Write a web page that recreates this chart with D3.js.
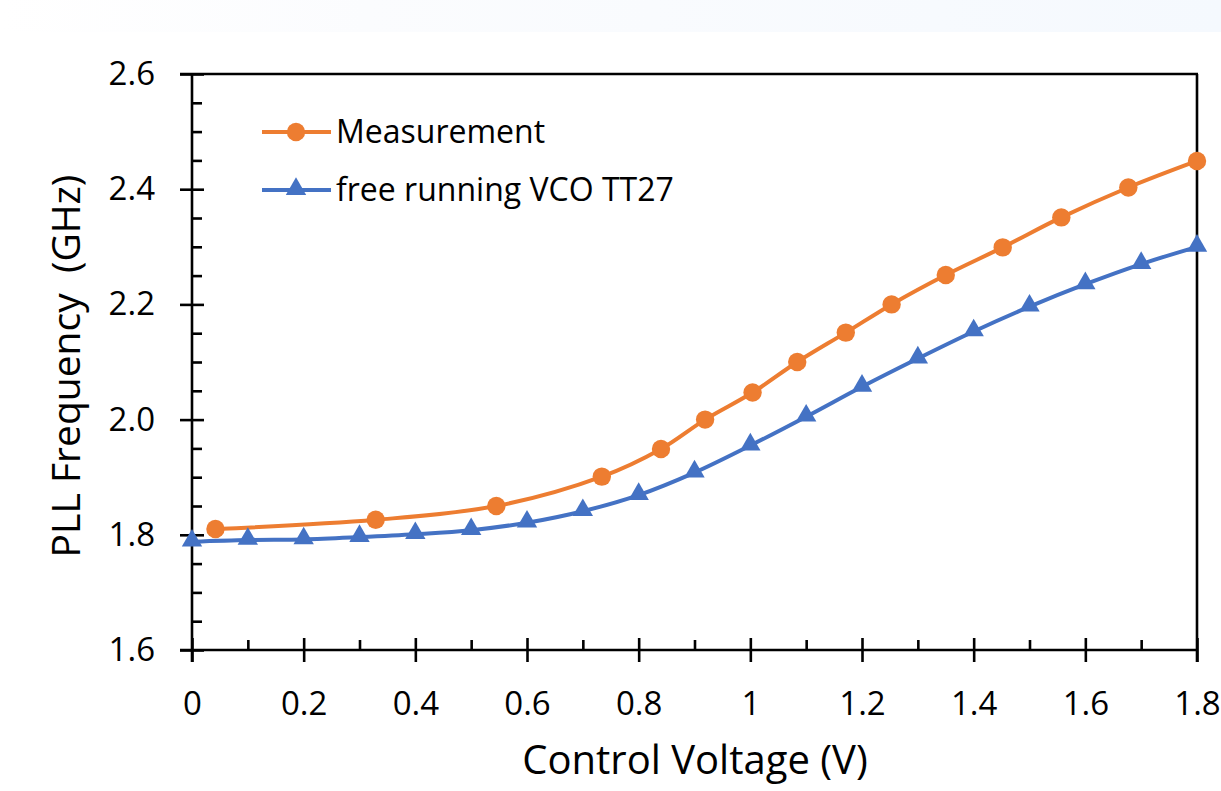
<!DOCTYPE html>
<html>
<head>
<meta charset="utf-8">
<script src="https://cdn.jsdelivr.net/npm/d3@7/dist/d3.min.js"></script>
<style>
  html, body { margin: 0; padding: 0; background: #ffffff; }
  svg { display: block; }
  text { font-family: "Open Sans", Lato, sans-serif; fill: #000; }
</style>
</head>
<body>
<svg id="chart" width="1221" height="791"></svg>
<script>
// ---- data ----
const measV = [0.042, 0.329, 0.545, 0.734, 0.840, 0.919, 1.004, 1.084, 1.171, 1.253, 1.350, 1.452, 1.557, 1.677, 1.800];
const measF = [1.810, 1.826, 1.850, 1.901, 1.949, 2.000, 2.047, 2.100, 2.151, 2.200, 2.251, 2.299, 2.351, 2.403, 2.449];
const vcoV  = [0, 0.1, 0.2, 0.3, 0.4, 0.5, 0.6, 0.7, 0.8, 0.9, 1.0, 1.1, 1.2, 1.3, 1.4, 1.5, 1.6, 1.7, 1.8];
const vcoF  = [1.788, 1.791, 1.792, 1.796, 1.801, 1.808, 1.821, 1.841, 1.869, 1.908, 1.955, 2.005, 2.057, 2.106, 2.153, 2.196, 2.235, 2.270, 2.300];
const xTicks = [0, 0.2, 0.4, 0.6, 0.8, 1, 1.2, 1.4, 1.6, 1.8];
const xMinor = [0.1, 0.3, 0.5, 0.7, 0.9, 1.1, 1.3, 1.5, 1.7];
const yTicks = [1.6, 1.8, 2.0, 2.2, 2.4, 2.6];
const yMinor = [1.65, 1.7, 1.75, 1.85, 1.9, 1.95, 2.05, 2.1, 2.15, 2.25, 2.3, 2.35, 2.45, 2.5, 2.55];
const seriesNames = ["Measurement", "free running VCO TT27"];
const xTitle = "Control Voltage (V)";
const yTitle = "PLL Frequency  (GHz)";

const colors = ["#ED7D31", "#4472C4"];

const svg = d3.select("#chart");

// faint top strip
const defs = svg.append("defs");
const grad = defs.append("linearGradient").attr("id", "strip").attr("x1", "0").attr("x2", "1");
grad.append("stop").attr("offset", "0").attr("stop-color", "#ffffff");
grad.append("stop").attr("offset", "0.3").attr("stop-color", "#fbfcfe");
grad.append("stop").attr("offset", "1").attr("stop-color", "#f5f9fe");
svg.append("rect").attr("x", 0).attr("y", 0).attr("width", 1221).attr("height", 32).attr("fill", "url(#strip)");

const L = 192, R = 1197, T = 74, B = 650;
const x = d3.scaleLinear().domain([0, 1.8]).range([L, R]);
const y = d3.scaleLinear().domain([1.6, 2.6]).range([B, T]);

const axisStroke = 2.6;
function styleAxis(g) {
  g.selectAll("path.domain").remove();
  g.selectAll("line").attr("stroke", "#000").attr("stroke-width", axisStroke);
}

// X axis: labels + outward major ticks
const gx = svg.append("g").attr("transform", `translate(0,${B})`)
  .call(d3.axisBottom(x).tickValues(xTicks).tickSize(12).tickPadding(53).tickFormat(d3.format("~g")));
styleAxis(gx);
gx.selectAll("text").attr("font-size", 33).attr("dy", 0);
const gx2 = svg.append("g").attr("transform", `translate(0,${B})`)
  .call(d3.axisBottom(x).tickValues(xTicks).tickSize(-12).tickFormat(""));
styleAxis(gx2);
const gx3 = svg.append("g").attr("transform", `translate(0,${B})`)
  .call(d3.axisBottom(x).tickValues(xMinor).tickSize(-10).tickFormat(""));
styleAxis(gx3);

// Y axis
const gy = svg.append("g").attr("transform", `translate(${L},0)`)
  .call(d3.axisLeft(y).tickValues(yTicks).tickSize(12).tickPadding(25).tickFormat(d3.format(".1f")));
styleAxis(gy);
gy.selectAll("text").attr("font-size", 33);
const gy2 = svg.append("g").attr("transform", `translate(${L},0)`)
  .call(d3.axisLeft(y).tickValues(yTicks).tickSize(-12).tickFormat(""));
styleAxis(gy2);
const gy3 = svg.append("g").attr("transform", `translate(${L},0)`)
  .call(d3.axisLeft(y).tickValues(yMinor).tickSize(-10).tickFormat(""));
styleAxis(gy3);

// frame lines
svg.append("line").attr("x1", L - 12).attr("x2", R + 1).attr("y1", B).attr("y2", B).attr("stroke", "#000").attr("stroke-width", axisStroke);
svg.append("line").attr("x1", L).attr("x2", L).attr("y1", T - 1).attr("y2", B + 12).attr("stroke", "#000").attr("stroke-width", axisStroke);
svg.append("line").attr("x1", L - 12).attr("x2", R + 1).attr("y1", T).attr("y2", T).attr("stroke", "#000").attr("stroke-width", axisStroke);
svg.append("line").attr("x1", R).attr("x2", R).attr("y1", T).attr("y2", B + 12).attr("stroke", "#000").attr("stroke-width", axisStroke);

// lines
const line = d3.line().curve(d3.curveCatmullRom.alpha(0.5)).x(d => x(d[0])).y(d => y(d[1]));
const meas = measV.map((v, i) => [v, measF[i]]);
const vco = vcoV.map((v, i) => [v, vcoF[i]]);

svg.append("path").datum(vco).attr("d", line).attr("fill", "none").attr("stroke", colors[1]).attr("stroke-width", 4);
svg.append("path").datum(meas).attr("d", line).attr("fill", "none").attr("stroke", colors[0]).attr("stroke-width", 4);

const tri = d3.symbol().type(d3.symbolTriangle).size(180);
svg.append("g").selectAll("path").data(vco).join("path")
  .attr("transform", d => `translate(${x(d[0])},${y(d[1]) - 1})`)
  .attr("d", tri).attr("fill", colors[1]);
svg.append("g").selectAll("circle").data(meas).join("circle")
  .attr("cx", d => x(d[0])).attr("cy", d => y(d[1])).attr("r", 9.2).attr("fill", colors[0]);

// legend
const lg = svg.append("g");
const legY = [132, 190];
seriesNames.forEach((name, i) => {
  lg.append("line").attr("x1", 262).attr("x2", 331).attr("y1", legY[i]).attr("y2", legY[i])
    .attr("stroke", colors[i]).attr("stroke-width", 4);
  if (i === 0) {
    lg.append("circle").attr("cx", 296).attr("cy", legY[i]).attr("r", 9.2).attr("fill", colors[i]);
  } else {
    lg.append("path").attr("transform", `translate(296,${legY[i] - 1})`).attr("d", tri).attr("fill", colors[i]);
  }
  lg.append("text").attr("x", 336).attr("y", legY[i] + 11).attr("font-size", 32).text(name);
});

// axis titles
svg.append("text").attr("x", 695).attr("y", 774).attr("text-anchor", "middle")
  .attr("font-size", 40).text(xTitle);
svg.append("text").attr("transform", `translate(80,366) rotate(-90)`).attr("text-anchor", "middle")
  .attr("font-size", 39).style("white-space", "pre").text(yTitle);
</script>
</body>
</html>
